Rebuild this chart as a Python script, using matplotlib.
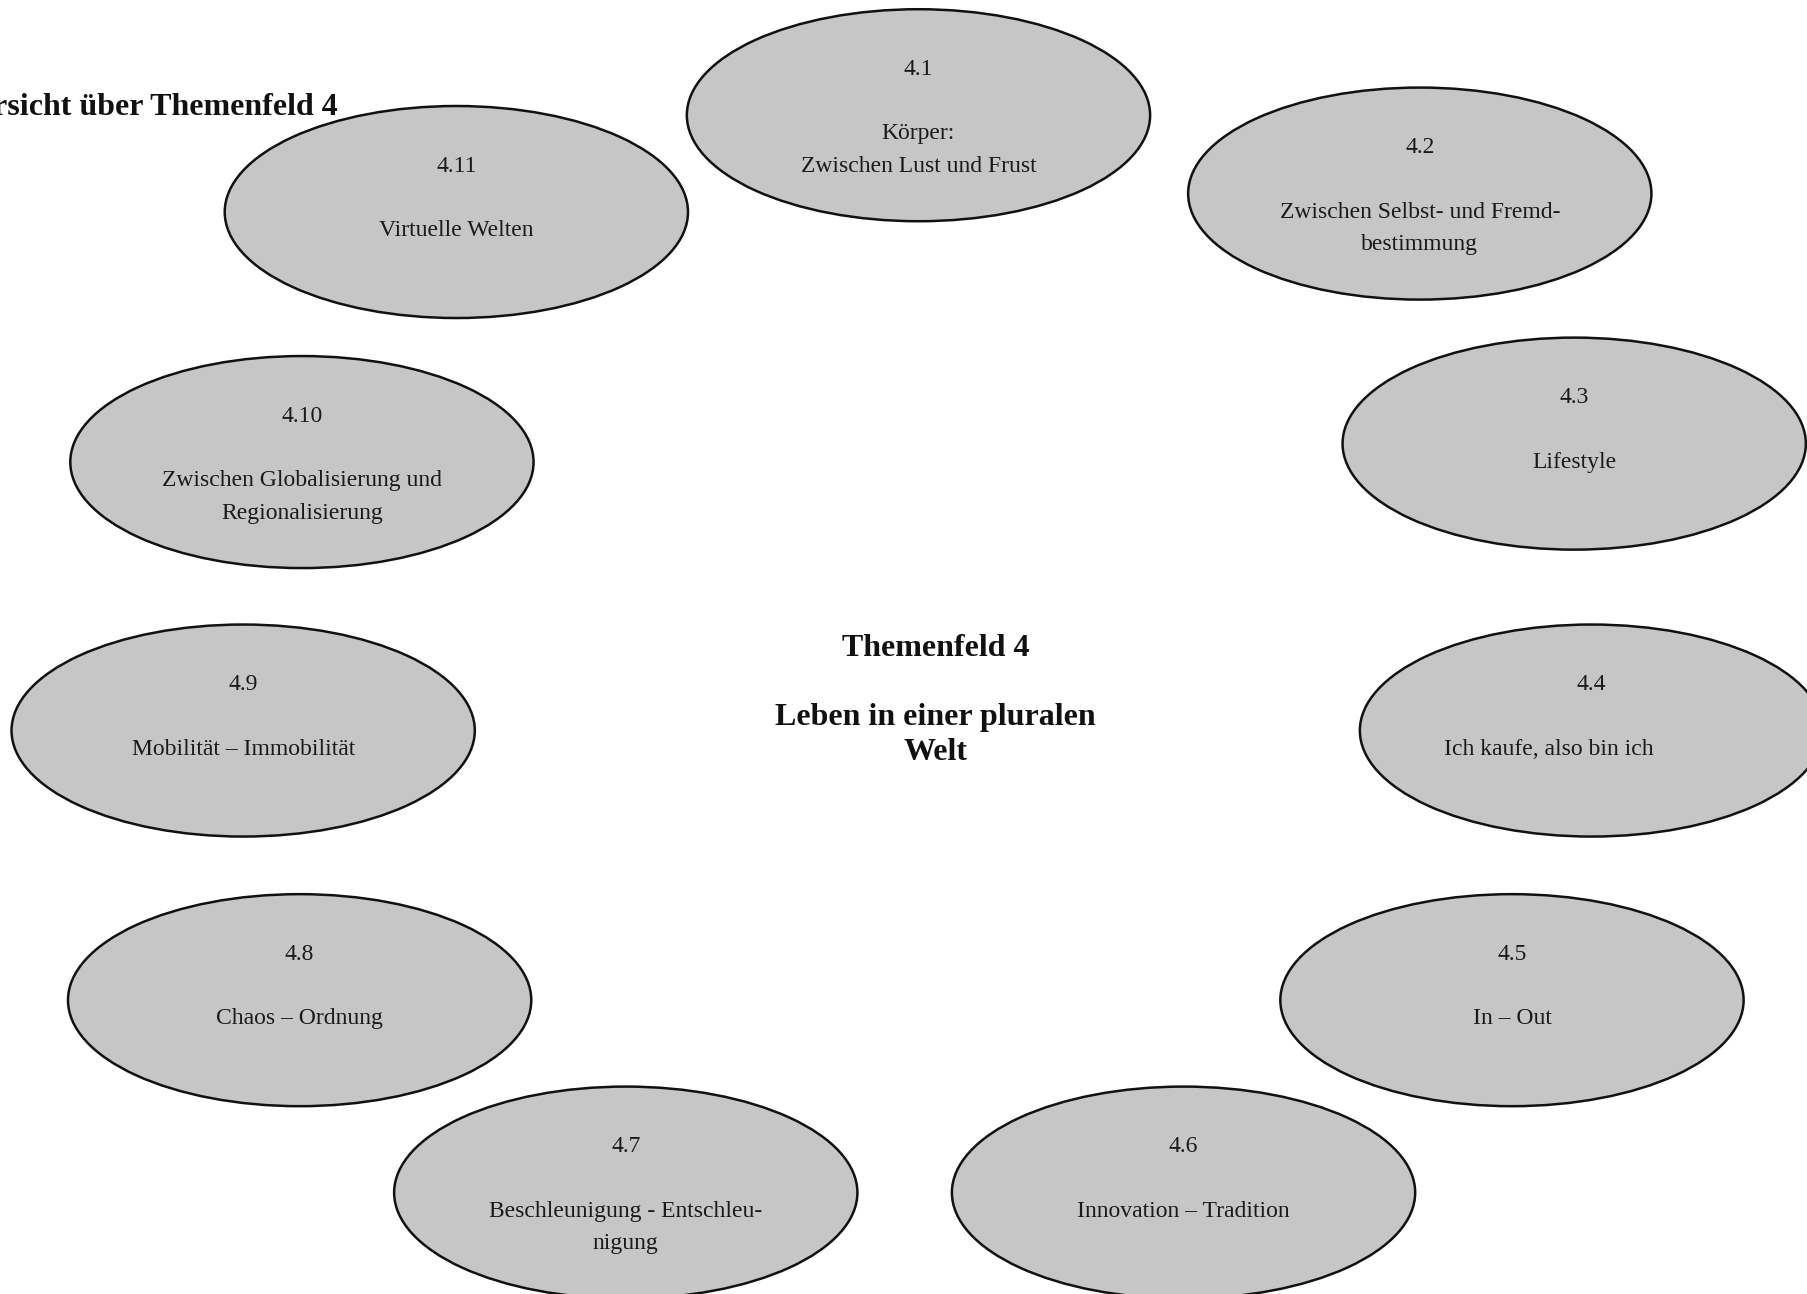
import matplotlib
matplotlib.use("Agg")
from matplotlib import pyplot as plt
from matplotlib.patches import Ellipse

# topics of Themenfeld 4
numbers = ["4.1", "4.2", "4.3", "4.4", "4.5", "4.6", "4.7", "4.8", "4.9", "4.10", "4.11"]
labels = [
    ["Körper:", "Zwischen Lust und Frust"],
    ["Zwischen Selbst- und Fremd-", "bestimmung"],
    ["Lifestyle"],
    ["Ich kaufe, also bin ich"],
    ["In – Out"],
    ["Innovation – Tradition"],
    ["Beschleunigung - Entschleu-", "nigung"],
    ["Chaos – Ordnung"],
    ["Mobilität – Immobilität"],
    ["Zwischen Globalisierung und", "Regionalisierung"],
    ["Virtuelle Welten"],
]

# layout (canvas units, y downwards)
cx = [797, 1232, 1366, 1381, 1312, 1027, 543, 260, 211, 262, 396]
cy = [100, 168, 385, 634, 868, 1035, 1035, 868, 634, 401, 184]
text_dx = [0, 0, 0, -37, 0, 0, 0, 0, 0, 0, 0]
ell_w = 402
ell_h = 184

title = "Übersicht über Themenfeld 4"
center_lines = ["Themenfeld 4", "Leben in einer pluralen", "Welt"]
center_y = [569, 629, 660]

plt.rcParams['font.family'] = ['Liberation Serif', 'DejaVu Serif']

fig = plt.figure(figsize=(18.07, 12.94), dpi=100)
ax = fig.add_axes([0, 0, 1, 1])
ax.set_xlim(0, 1568)
ax.set_ylim(1123, 0)
ax.axis('off')

for i in range(len(numbers)):
    e = Ellipse((cx[i], cy[i]), ell_w, ell_h, facecolor='#c6c6c6',
                edgecolor='#111111', linewidth=1.8)
    ax.add_patch(e)
    ax.text(cx[i], cy[i] - 35, numbers[i], ha='center', va='baseline',
            fontsize=17, color='#1a1a1a')
    for j, line in enumerate(labels[i]):
        ax.text(cx[i] + text_dx[i], cy[i] + 21 + 28 * j, line, ha='center',
                va='baseline', fontsize=17, color='#1a1a1a')

ax.text(293, 100, title, ha='right', va='baseline', fontsize=23,
        fontweight='bold', color='#111111')

for line, y in zip(center_lines, center_y):
    ax.text(812, y, line, ha='center', va='baseline', fontsize=23,
            fontweight='bold', color='#111111')

fig.savefig("out.png", dpi=100)
